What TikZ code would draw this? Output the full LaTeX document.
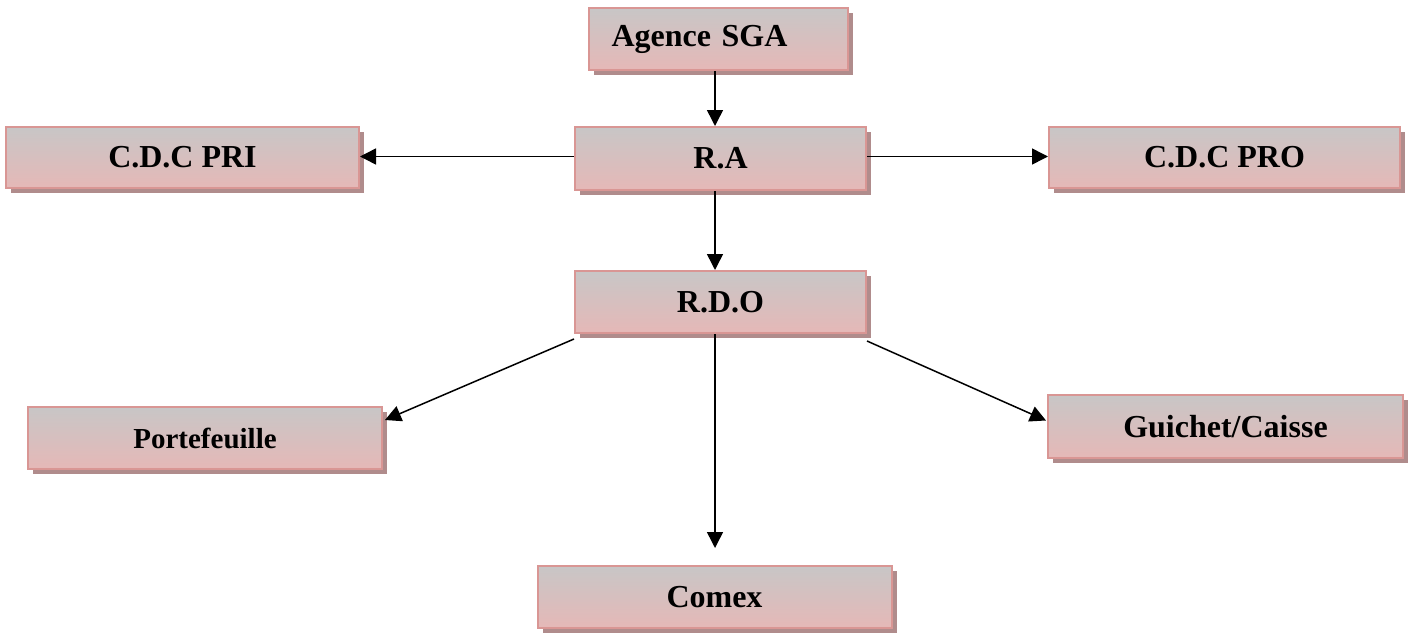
\documentclass[tikz,border=0pt]{standalone}
\usepackage{fontspec}
\setmainfont{Liberation Serif}
\usetikzlibrary{shadows,arrows.meta,calc}
\definecolor{boxtop}{RGB}{200,198,198}
\definecolor{boxbot}{RGB}{229,184,183}
\definecolor{boxline}{RGB}{217,150,148}
\definecolor{boxshadow}{RGB}{176,140,140}
\tikzset{
  box/.style={rectangle, draw=boxline, line width=1pt, top color=boxtop, bottom color=boxbot,
    inner sep=0pt, font=\fontsize{16}{18}\selectfont\bfseries,
    drop shadow={shadow xshift=2.5pt, shadow yshift=-2.5pt, fill=boxshadow, opacity=1}},
  arr/.style={line width=0.75pt, -{Triangle[length=8pt,width=8pt]}}
}
\begin{document}
\begin{tikzpicture}[x=0.5pt,y=-0.5pt]
\useasboundingbox (0,0) rectangle (1409,633);
\node[box, minimum width=259*0.5pt, minimum height=62*0.5pt, inner xsep=11pt, text width=107pt, align=left] (agence) at (718.5,39) {Agence SGA};
\node[box, minimum width=353*0.5pt, minimum height=61*0.5pt] (cdcpri) at (182.5,157.5) {C.D.C PRI};
\node[box, minimum width=291*0.5pt, minimum height=63*0.5pt] (ra) at (720.5,158.5) {R.A};
\node[box, minimum width=351*0.5pt, minimum height=61*0.5pt] (cdcpro) at (1224.5,157.5) {C.D.C PRO};
\node[box, minimum width=291*0.5pt, minimum height=62*0.5pt] (rdo) at (720.5,302) {R.D.O};
\node[box, minimum width=354*0.5pt, minimum height=62*0.5pt, font=\fontsize{14.5}{17}\selectfont\bfseries] (porte) at (205,438) {Portefeuille};
\node[box, minimum width=355*0.5pt, minimum height=63*0.5pt] (guichet) at (1225.5,426.5) {Guichet/Caisse};
\node[box, minimum width=354*0.5pt, minimum height=62*0.5pt] (comex) at (714.5,597) {Comex};

\draw[arr] ([xshift=-1.75pt]agence.south) -- ([xshift=-1.75pt]agence.south |- ra.north);
\draw[arr] ([yshift=1pt]ra.west) -- ([yshift=1pt]ra.west -| cdcpri.east);
\draw[arr] ([yshift=1pt]ra.east) -- ([yshift=1pt]ra.east -| cdcpro.west);
\draw[arr] ([xshift=-2.75pt]ra.south) -- ([xshift=-2.75pt]ra.south |- rdo.north);
\draw[arr, shorten >=8.5pt] ([xshift=-2.75pt]rdo.south) -- ([xshift=-2.75pt]rdo.south |- comex.north);
\draw[arr] ($(rdo.south west)+(0,5)$) -- ($(porte.north east)+(2,14)$);
\draw[arr] ($(rdo.south east)+(0,7)$) -- ($(guichet.west)+(-1,-6)$);
\end{tikzpicture}
\end{document}
